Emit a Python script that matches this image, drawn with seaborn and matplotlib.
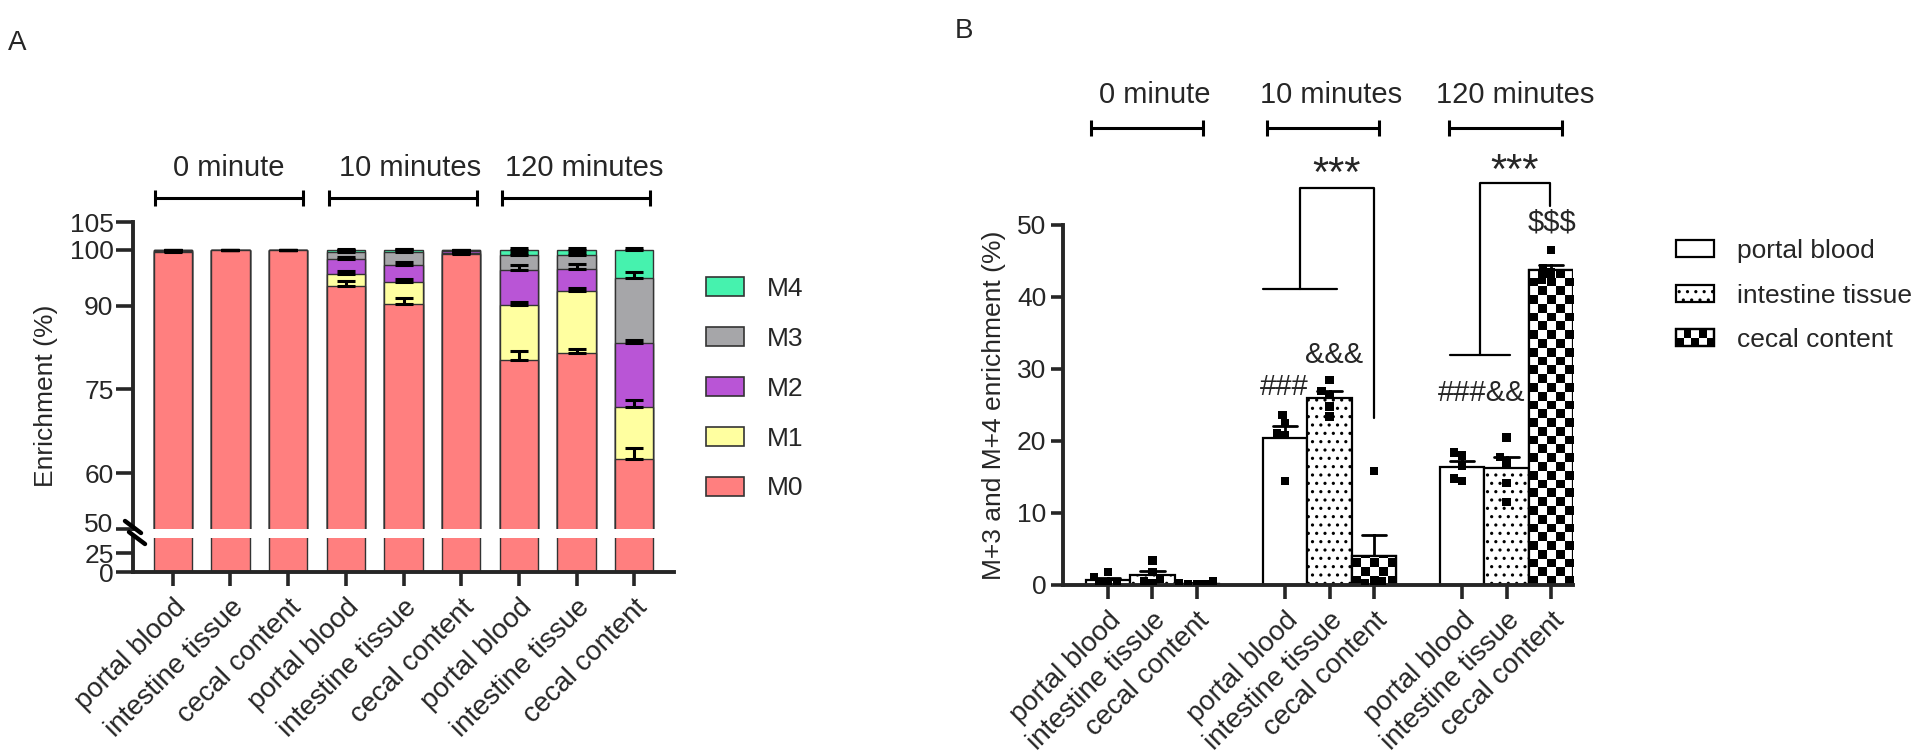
import numpy as np
import pandas as pd
import matplotlib
matplotlib.use("Agg")
import matplotlib.pyplot as plt
import matplotlib.transforms as mtransforms
import seaborn as sns
from matplotlib.patches import Patch, Rectangle
from matplotlib.lines import Line2D
from matplotlib.legend_handler import HandlerBase

# ---------------- data ----------------
times = ["0 minute", "10 minutes", "120 minutes"]
tissues = ["portal blood", "intestine tissue", "cecal content"]
isotopologues = ["M0", "M1", "M2", "M3", "M4"]

# panel A: isotopologue distribution (%), bars = time x tissue
m0 = [99.7, 99.9, 99.9, 93.6, 90.3, 99.3, 80.2, 81.5, 62.6]
m1 = [0.1, 0.05, 0.05, 2.1, 3.9, 0.1, 9.9, 11.2, 9.3]
m2 = [0.1, 0.02, 0.02, 2.7, 3.1, 0.4, 6.3, 3.9, 11.4]
m3 = [0.05, 0.02, 0.02, 1.2, 2.3, 0.1, 2.6, 2.4, 11.6]
m4 = [0.05, 0.01, 0.01, 0.4, 0.4, 0.1, 1.0, 1.0, 5.1]

m0_err = [0.2, 0.05, 0.05, 0.9, 1.1, 0.2, 1.7, 0.8, 2.0]
m1_err = [0.05, 0.02, 0.02, 0.5, 0.6, 0.05, 0.6, 0.5, 1.2]
m2_err = [0.05, 0.01, 0.01, 0.4, 0.6, 0.1, 0.9, 0.8, 0.6]
m3_err = [0.02, 0.01, 0.01, 0.4, 0.5, 0.05, 0.5, 0.5, 1.1]
m4_err = [0.02, 0.01, 0.01, 0.2, 0.2, 0.05, 0.3, 0.3, 0.3]

iso_colors = ["#FF7F7F", "#FFFFA0", "#B955D6", "#A6A6A9", "#46F2AE"]

# panel B: M+3 and M+4 enrichment (%), individual animals
pts_0min = [[0.1, 0.3, 0.2, 1.1, 1.8],
            [3.4, 1.8, 0.9, 0.5, 0.3],
            [0.6, 0.2, 0.1, 0.05, 0.05]]
pts_10min = [[23.6, 22.5, 21.1, 20.8, 14.4],
             [28.5, 26.9, 26.4, 24.8, 23.4],
             [15.8, 3.2, 0.5, 0.3, 0.2]]
pts_120min = [[18.4, 18.0, 16.5, 14.8, 14.4],
              [20.5, 17.8, 17.0, 14.2, 11.5],
              [46.5, 44.0, 43.5, 42.4, 42.3]]

# ---------------- style ----------------
sns.set_theme(style="ticks")
plt.rcParams['font.family'] = ['Liberation Sans', 'DejaVu Sans']
plt.rcParams['hatch.linewidth'] = 1.1


def fx(px):
    return px / 1920


def fy(py):
    return 1 - py / 756


fig = plt.figure(figsize=(19.2, 7.56), dpi=100)
axA = fig.add_axes([fx(133), fy(529), 541 / 1920, 307 / 756])
axA0 = fig.add_axes([fx(133), fy(572), 541 / 1920, 34 / 756])
axB = fig.add_axes([fx(1063), fy(585), 510 / 1920, 360 / 756])

# ---------------- panel A ----------------
samples = [f"{t}|{s}" for t in times for s in tissues]
layers = np.array([m0, m1, m2, m3, m4])
errs = np.array([m0_err, m1_err, m2_err, m3_err, m4_err])
tops = np.cumsum(layers, axis=0)

for k in reversed(range(len(isotopologues))):
    sns.barplot(x=samples, y=tops[k], color=iso_colors[k], saturation=1,
                width=0.66, edgecolor="#333333", linewidth=1.0, ax=axA)
sns.barplot(x=samples, y=m0, color=iso_colors[0], saturation=1,
            width=0.66, edgecolor="#333333", linewidth=1.0, ax=axA0)

pos = np.arange(len(samples))
for k in range(len(isotopologues)):
    axA.errorbar(pos, tops[k], yerr=[np.zeros(len(pos)), errs[k]], fmt="none",
                 ecolor="black", elinewidth=2.2, capsize=6.8, capthick=2.2,
                 zorder=3)

axA.set_ylim(50, 105)
axA0.set_ylim(0, 45)
for ax in (axA, axA0):
    ax.set_xlim(-0.69, 8.69)
    ax.spines[["top", "right"]].set_visible(False)
    ax.spines["left"].set_linewidth(2.8)
    ax.tick_params(axis="y", length=12, width=2.6, labelsize=19, pad=2)
axA.spines["bottom"].set_visible(False)
axA.tick_params(axis="x", bottom=False, labelbottom=False)
axA.set_yticks([50, 60, 75, 90, 100, 105])
axA0.set_yticks([0, 25])
axA0.spines["bottom"].set_linewidth(2.8)
axA0.set_xticks(pos)
axA0.set_xticklabels(tissues * 3, rotation=45, ha="right",
                     rotation_mode="anchor", fontsize=20)
axA0.tick_params(axis="x", length=10, width=2.6, pad=6)
axA.set_ylabel("Enrichment (%)", fontsize=19)
axA.yaxis.set_label_coords(-0.139, 0.433)
axA.set_xlabel("")
axA0.set_xlabel("")

# the "50" label sits a little above the break, as in the original
lift = mtransforms.ScaledTranslation(0, 7 / 100, fig.dpi_scale_trans)
lbl50 = axA.get_yticklabels()[0]
lbl50.set_transform(lbl50.get_transform() + lift)

# axis break marks
for (x0, y0, x1, y1) in [(125, 521, 141, 533), (129, 532, 145, 544)]:
    fig.add_artist(Line2D([fx(x0), fx(x1)], [fy(y0), fy(y1)],
                          color="black", lw=3.2))

# time brackets panel A
for center, txt, tx in zip([0.98, 3.99, 6.99], times, [0.97, 4.11, 7.14]):
    axA.plot([center - 1.28, center + 1.28], [109.3, 109.3], color="black",
             lw=2.2, marker="|", markersize=12, mew=2.2, clip_on=False)
    axA.text(tx, 114.7, txt, ha="center", va="center", fontsize=21,
             clip_on=False)

handlesA = [Patch(facecolor=iso_colors[k], edgecolor="#333333", linewidth=1.2)
            for k in reversed(range(len(isotopologues)))]
fig.legend(handlesA, list(reversed(isotopologues)), loc="upper left",
           bbox_to_anchor=(fx(706), fy(277)), frameon=False, fontsize=19,
           handlelength=1.45, handleheight=0.75, handletextpad=0.85,
           labelspacing=0.98, borderpad=0, borderaxespad=0)

# ---------------- panel B ----------------
slot_order = []
rows = []
for g, (t, pts) in enumerate(zip(times, [pts_0min, pts_10min, pts_120min])):
    for tissue, vals in zip(tissues, pts):
        slot = f"{t}|{tissue}"
        slot_order.append(slot)
        for v in vals:
            rows.append({"slot": slot, "tissue": tissue, "value": v})
    if g < len(times) - 1:
        slot_order.append(f"gap{g}")
df = pd.DataFrame(rows)

sns.barplot(data=df, x="slot", y="value", hue="tissue", order=slot_order,
            hue_order=tissues, dodge=False, width=1.0, saturation=1,
            palette={t: "white" for t in tissues}, errorbar="se",
            capsize=0.55, edgecolor="black", linewidth=1.6,
            err_kws={"color": "black", "linewidth": 2.0, "zorder": 0.5},
            legend=False, ax=axB)

for p in axB.containers[1]:
    p.set_hatch("..")

for bar in axB.containers[2]:
    x0, w, h = bar.get_x(), bar.get_width(), bar.get_height()
    if not h > 0:
        continue
    cell_h = 1.22
    nrow = int(np.ceil(h / cell_h))
    board = np.indices((nrow, 5)).sum(axis=0) % 2
    im = axB.imshow(board, cmap="gray", extent=(x0, x0 + w, 0, nrow * cell_h),
                    origin="lower", aspect="auto", interpolation="nearest",
                    zorder=1.5)
    im.set_clip_path(bar)
    axB.add_patch(Rectangle((x0, 0), w, h, fill=False, edgecolor="black",
                            linewidth=1.6, zorder=1.6))

sns.swarmplot(data=df, x="slot", y="value", hue="tissue", order=slot_order,
              hue_order=tissues, palette={t: "black" for t in tissues},
              marker="s", size=6, linewidth=0, dodge=False, legend=False,
              ax=axB, zorder=3)

bar_slots = [i for i, s in enumerate(slot_order) if not s.startswith("gap")]
axB.set_xticks(bar_slots)
axB.set_xticklabels(tissues * 3, rotation=45, ha="right",
                    rotation_mode="anchor", fontsize=20)
axB.set_xlim(-1.02, 10.5)
axB.set_ylim(0, 50)
axB.set_aspect("auto")
axB.set_yticks([0, 10, 20, 30, 40, 50])
axB.spines[["top", "right"]].set_visible(False)
axB.spines["left"].set_linewidth(2.8)
axB.spines["bottom"].set_linewidth(2.8)
axB.tick_params(axis="y", length=9, width=2.6, labelsize=19, pad=3)
axB.tick_params(axis="x", length=10, width=2.6, pad=6)
axB.set_xlabel("")
axB.set_ylabel("M+3 and M+4 enrichment (%)", fontsize=19)
axB.yaxis.set_label_coords(-0.112, 0.5)

# time brackets panel B
for center, txt, tx in zip([0.88, 4.85, 8.98], times, [1.06, 5.03, 9.19]):
    axB.plot([center - 1.27, center + 1.27], [63.5, 63.5], color="black",
             lw=2.2, marker="|", markersize=12, mew=2.2, clip_on=False)
    axB.text(tx, 68.1, txt, ha="center", va="center", fontsize=21,
             clip_on=False)

# significance brackets
line_kw = dict(color="black", lw=1.6, clip_on=False)
axB.plot([4.33, 4.33, 6.0, 6.0], [41.1, 55.2, 55.2, 23.2], **line_kw)
axB.plot([3.49, 5.17], [41.1, 41.1], **line_kw)
axB.plot([8.4, 8.4, 9.98, 9.98], [32.0, 55.8, 55.8, 52.6], **line_kw)
axB.plot([7.72, 9.07], [32.0, 32.0], **line_kw)

ann_kw = dict(ha="center", va="center", fontsize=21, clip_on=False)
star_kw = dict(ha="center", va="center", fontsize=30, clip_on=False)
axB.text(5.15, 57.0, "***", **star_kw)
axB.text(9.19, 57.3, "***", **star_kw)
axB.text(10.02, 50.3, "$$$", **ann_kw)
axB.text(5.1, 31.9, "&&&", **ann_kw)
axB.text(3.97, 27.5, "###", **ann_kw)
axB.text(8.43, 26.6, "###&&", **ann_kw)


class CheckerHandler(HandlerBase):
    def create_artists(self, legend, orig_handle, xdescent, ydescent,
                       width, height, fontsize, trans):
        arts = [Rectangle((-xdescent, -ydescent), width, height,
                          facecolor="white", edgecolor="black", lw=1.6,
                          transform=trans)]
        ncol, nrow = 5, 2
        for i in range(ncol):
            for j in range(nrow):
                if (i + j) % 2 == 0:
                    arts.append(Rectangle(
                        (-xdescent + i * width / ncol, -ydescent + j * height / nrow),
                        width / ncol, height / nrow, facecolor="black",
                        edgecolor="none", transform=trans))
        arts.append(Rectangle((-xdescent, -ydescent), width, height,
                              fill=False, edgecolor="black", lw=1.6,
                              transform=trans))
        return arts


h_pb = Patch(facecolor="white", edgecolor="black", linewidth=1.6)
h_it = Patch(facecolor="white", edgecolor="black", linewidth=1.6, hatch="..")
h_cc = Patch(facecolor="black", edgecolor="black")
fig.legend([h_pb, h_it, h_cc], tissues, loc="upper left",
           bbox_to_anchor=(fx(1676), fy(239)), frameon=False, fontsize=19,
           handlelength=1.45, handleheight=0.6, handletextpad=0.85,
           labelspacing=0.78, borderpad=0, borderaxespad=0,
           handler_map={h_cc: CheckerHandler()})

# panel letters
fig.text(fx(17), fy(43), "A", fontsize=20, ha="center", va="center")
fig.text(fx(964), fy(31), "B", fontsize=20, ha="center", va="center")

fig.savefig("out.png", dpi=100)
